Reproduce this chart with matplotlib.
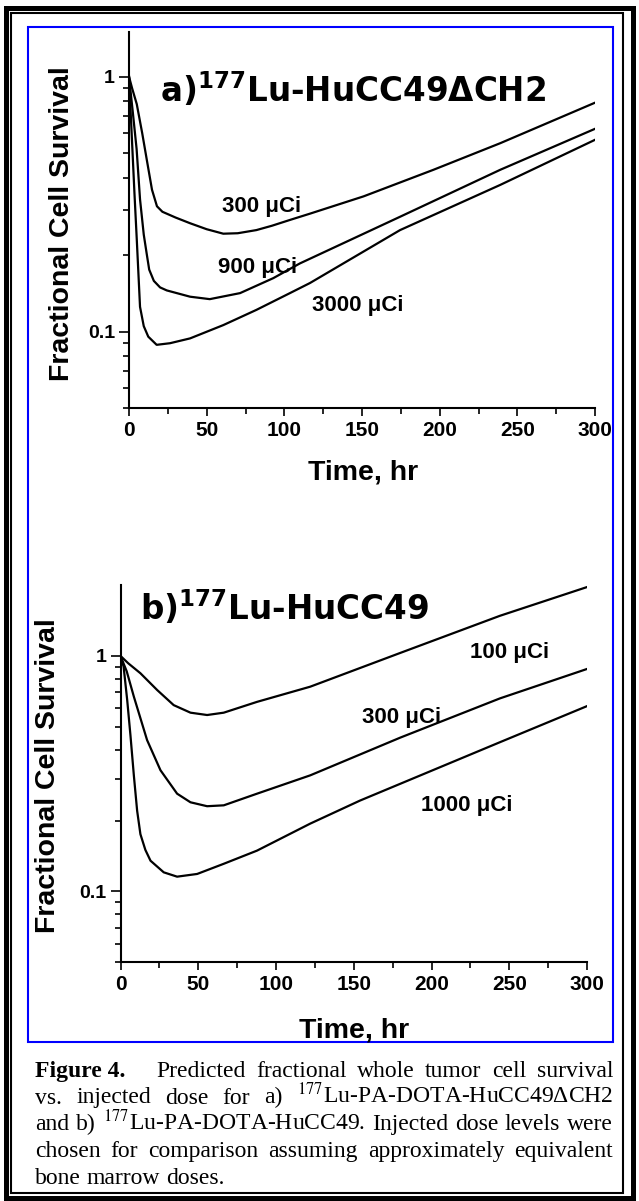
"""
Figure 4: predicted fractional tumour cell survival vs time for two 177Lu antibodies.
"""

import matplotlib
matplotlib.use('Agg')
import matplotlib.pyplot as plt
from matplotlib.patches import Rectangle
from matplotlib.ticker import FixedLocator, FixedFormatter, MultipleLocator, NullFormatter

plt.rcParams['font.family'] = ['Liberation Sans', 'DejaVu Sans']

# --- Data (time in hr, survival fraction) ---
a300_t = [0, 2, 5, 8.5, 11.5, 14.8, 18, 21.5, 30, 39.3, 50, 60.7, 70, 82, 92, 103.6, 116.5, 151, 196, 239, 300]
a300_y = [1.0, 0.9, 0.78, 0.6, 0.47, 0.36, 0.31, 0.295, 0.28, 0.266, 0.252, 0.242, 0.243, 0.25, 0.26, 0.274, 0.29, 0.339, 0.431, 0.548, 0.79]

a900_t = [0, 2.5, 4.9, 7.1, 9.5, 11.5, 13, 16, 20, 24.3, 39.3, 52, 71.5, 92.9, 110, 174.5, 239, 300]
a900_y = [1.0, 0.72, 0.52, 0.33, 0.24, 0.2, 0.175, 0.158, 0.149, 0.145, 0.137, 0.134, 0.1415, 0.162, 0.185, 0.282, 0.431, 0.624]

a3000_t = [0, 1.7, 3.5, 5, 7.1, 9.5, 12.4, 17.8, 26.4, 39.3, 60.7, 82, 103.6, 116.5, 174.5, 239, 300]
a3000_y = [1.0, 0.6, 0.35, 0.23, 0.125, 0.105, 0.0955, 0.0887, 0.09, 0.094, 0.106, 0.1216, 0.1415, 0.155, 0.25, 0.376, 0.565]

b100_t = [0, 5, 12.8, 23.6, 34.2, 45, 55.7, 66.4, 87.8, 122, 180, 244, 300]
b100_y = [1.0, 0.93, 0.844, 0.716, 0.618, 0.574, 0.561, 0.574, 0.638, 0.74, 1.03, 1.48, 1.96]

b300_t = [0, 4, 8.6, 17.1, 25.7, 36.4, 45, 55.7, 66.4, 87.8, 122, 180, 244, 300]
b300_y = [1.0, 0.86, 0.671, 0.439, 0.327, 0.26, 0.239, 0.23, 0.232, 0.26, 0.311, 0.45, 0.66, 0.88]

b1000_t = [0, 2, 4.3, 6.4, 8.6, 10.7, 12.8, 16, 19.3, 27.8, 36.4, 49.3, 66.4, 87.8, 122, 154, 244, 300]
b1000_y = [1.0, 0.9, 0.65, 0.46, 0.31, 0.22, 0.175, 0.15, 0.135, 0.1205, 0.1155, 0.1186, 0.131, 0.149, 0.194, 0.243, 0.43, 0.612]

labels_a = ['300 \u03bcCi', '900 \u03bcCi', '3000 \u03bcCi']
labels_b = ['100 \u03bcCi', '300 \u03bcCi', '1000 \u03bcCi']

y_major = [0.1, 1]
y_major_labels = ['0.1', '1']
y_minor = [0.05, 0.06, 0.07, 0.08, 0.09, 0.2, 0.3, 0.4, 0.5, 0.6, 0.7, 0.8, 0.9]

W, H = 639, 1201
fig = plt.figure(figsize=(W / 100, H / 100), dpi=100)
fig.patch.set_facecolor('white')


def px_axes(left, top, right, bottom):
    return fig.add_axes([left / W, 1 - bottom / H, (right - left) / W, (bottom - top) / H])


def style(ax, ymax):
    ax.set_yscale('log')
    ax.set_xlim(0, 300)
    ax.set_ylim(0.05, ymax)
    for s in ['top', 'right']:
        ax.spines[s].set_visible(False)
    for s in ['left', 'bottom']:
        ax.spines[s].set_linewidth(1.5)
    ax.yaxis.set_major_locator(FixedLocator(y_major))
    ax.yaxis.set_major_formatter(FixedFormatter(y_major_labels))
    ax.yaxis.set_minor_locator(FixedLocator(y_minor))
    ax.yaxis.set_minor_formatter(NullFormatter())
    ax.xaxis.set_major_locator(MultipleLocator(50))
    ax.xaxis.set_minor_locator(MultipleLocator(25))
    ax.tick_params(axis='y', which='major', direction='out', length=7, width=1.2, pad=3, labelsize=14)
    ax.tick_params(axis='y', which='minor', direction='out', length=4.5, width=1.2)
    ax.tick_params(axis='x', which='major', direction='out', length=6, width=1.2, pad=3.5, labelsize=15)
    ax.tick_params(axis='x', which='minor', direction='out', length=4, width=1.2)
    for lab in ax.get_xticklabels() + ax.get_yticklabels():
        lab.set_fontweight('bold')
    ax.patch.set_alpha(0)


line_kw = dict(color='black', lw=1.6)
lab_kw = dict(fontsize=16, fontweight='bold', ha='left', va='center')

# --- Panel a ---
ax1 = px_axes(129, 31.7, 595, 408.3)
ax1.plot(a300_t, a300_y, **line_kw)
ax1.plot(a900_t, a900_y, **line_kw)
ax1.plot(a3000_t, a3000_y, **line_kw)
style(ax1, 1.5)
ax1.text(60, 0.308, labels_a[0], **lab_kw)
ax1.text(57, 0.178, labels_a[1], **lab_kw)
ax1.text(118, 0.127, labels_a[2], **lab_kw)

# --- Panel b ---
ax2 = px_axes(120.5, 585, 587, 962.3)
ax2.plot(b100_t, b100_y, **line_kw)
ax2.plot(b300_t, b300_y, **line_kw)
ax2.plot(b1000_t, b1000_y, **line_kw)
style(ax2, 2.0)
ax2.text(225, 1.03, labels_b[0], **lab_kw)
ax2.text(155, 0.55, labels_b[1], **lab_kw)
ax2.text(193, 0.232, labels_b[2], **lab_kw)

# --- Overlay in pixel coordinates: frames, titles, axis labels, caption ---
ov = fig.add_axes([0, 0, 1, 1], zorder=10)
ov.set_xlim(0, W)
ov.set_ylim(H, 0)
ov.axis('off')
ov.patch.set_alpha(0)

ov.add_patch(Rectangle((6, 7.5), 626.5, 1190, fill=False, lw=3.6, ec='black', clip_on=False))
ov.add_patch(Rectangle((11, 13), 612, 1180, fill=False, lw=1.5, ec='black', clip_on=False))
ov.add_patch(Rectangle((28, 27), 585, 1015, fill=False, lw=1.5, ec='#0000ff', clip_on=False))

title_kw = dict(fontsize=23.5, fontweight='bold', family='DejaVu Sans', ha='left', va='baseline',
                math_fontfamily='dejavusans')
ov.text(160, 102, 'a)$^{\\mathbf{177}}$Lu-HuCC49\u0394CH2', **title_kw)
ov.text(140, 620, 'b)$^{\\mathbf{177}}$Lu-HuCC49', **title_kw)

axlab_kw = dict(fontsize=20.5, fontweight='bold', ha='center', va='center')
ov.text(62, 224, 'Fractional Cell Survival', rotation=90, **axlab_kw)
ov.text(48, 776, 'Fractional Cell Survival', rotation=90, **axlab_kw)
ov.text(363, 472, 'Time, hr', **axlab_kw)
ov.text(354, 1030, 'Time, hr', **axlab_kw)

caption = [
    [('Figure 4.', 'bold', 0), ('Predicted', 'normal', 3), ('fractional', 'normal', 1), ('whole', 'normal', 1),
     ('tumor', 'normal', 1), ('cell', 'normal', 1), ('survival', 'normal', 1)],
    [('vs.', 'normal', 0), ('injected', 'normal', 1), ('dose', 'normal', 1), ('for', 'normal', 1), ('a)', 'normal', 1),
     ('$^{177}$Lu-PA-DOTA-HuCC49\u0394CH2', 'normal', 1)],
    [('and', 'normal', 0), ('b)', 'normal', 1), ('$^{177}$Lu-PA-DOTA-HuCC49.', 'normal', 1), ('Injected', 'normal', 1),
     ('dose', 'normal', 1), ('levels', 'normal', 1), ('were', 'normal', 1)],
    [('chosen', 'normal', 0), ('for', 'normal', 1), ('comparison', 'normal', 1), ('assuming', 'normal', 1),
     ('approximately', 'normal', 1), ('equivalent', 'normal', 1)],
    [('bone', 'normal', 0), ('marrow', 'normal', 1), ('doses.', 'normal', 1)],
]
baselines = [1077, 1103.5, 1130, 1157, 1183.5]
cap_x0, cap_x1 = 35, 613

renderer = fig.canvas.get_renderer()
for i, (words, yb) in enumerate(zip(caption, baselines)):
    texts = [ov.text(cap_x0, yb, w, family='Liberation Serif', fontsize=17, fontweight=fw,
                     math_fontfamily='stix', ha='left', va='baseline') for w, fw, _ in words]
    widths = [t.get_window_extent(renderer).width for t in texts]
    weights = [g for _, _, g in words]
    if i < len(caption) - 1:
        unit = (cap_x1 - cap_x0 - sum(widths)) / sum(weights)
    else:
        unit = 6.0
    x = cap_x0
    for t, wdt, g in zip(texts, widths, weights):
        x += unit * g
        t.set_x(x)
        x += wdt

fig.savefig('out.png', dpi=100, facecolor='white')
print("Saved: out.png")
